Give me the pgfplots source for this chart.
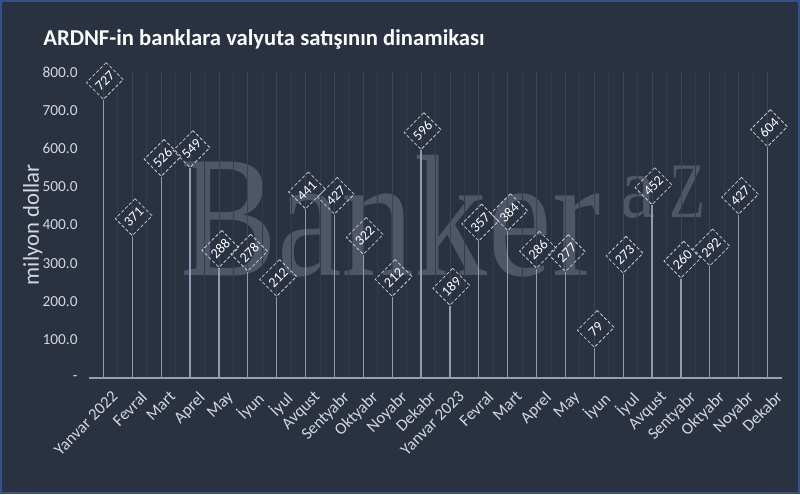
\documentclass[border=0pt]{standalone}
\usepackage{fontspec}
\setmainfont{Carlito}
\newfontfamily\wmfont{Liberation Serif}
\usepackage{pgfplots}
\pgfplotsset{compat=1.18}

\definecolor{bg}{HTML}{2A3242}
\definecolor{frame}{HTML}{34528A}
\definecolor{gridc}{HTML}{3A4457}
\definecolor{gridm}{HTML}{333C4E}
\definecolor{needle}{HTML}{8C9CB4}
\definecolor{axisc}{HTML}{9A9FA8}
\definecolor{ticktext}{HTML}{D3D7DD}
\definecolor{boxc}{HTML}{C3C9D2}
\definecolor{wm}{HTML}{4E5667}

\begin{document}
\begin{tikzpicture}
\fill[bg] (0,0) rectangle (600pt,370.5pt);
\draw[frame, line width=1.2pt] (0.6pt,0.6pt) rectangle (599.4pt,369.9pt);

% watermark
\node[anchor=base west, inner sep=0, text=wm, xscale=0.84,
      font=\wmfont\fontsize{130}{130}\selectfont] at (135pt,164.25pt) {Banker};
\node[anchor=base west, inner sep=0, text=wm, xscale=0.9,
      font=\wmfont\fontsize{66}{66}\selectfont] at (465pt,207.75pt) {a};
\node[anchor=base west, inner sep=0, text=wm, xscale=0.75,
      font=\wmfont\fontsize{59}{59}\selectfont] at (502pt,207.75pt) {Z};

\node[anchor=base west, inner sep=0, text=white,
      font=\bfseries\fontsize{17}{20}\selectfont]
  at (32.25pt,336.75pt) {ARDNF-in banklara valyuta satışının dinamikası};

\begin{axis}[
    at={(66.75pt,87pt)}, anchor=south west,
    scale only axis,
    width=519.75pt, height=229.5pt,
    xmin=-0.5, xmax=23.5,
    ymin=0, ymax=800,
    xtick={0,...,23},
    xticklabels={Yanvar 2022, Fevral, Mart, Aprel, May, İyun, İyul, Avqust, Sentyabr, Oktyabr, Noyabr, Dekabr,
                 Yanvar 2023, Fevral, Mart, Aprel, May, İyun, İyul, Avqust, Sentyabr, Oktyabr, Noyabr, Dekabr},
    minor x tick num=1,
    xmajorgrids, xminorgrids,
    major grid style={gridc, line width=0.6pt},
    minor grid style={gridm, line width=0.6pt},
    ytick={0,100,...,800},
    yticklabels={-,100.0,200.0,300.0,400.0,500.0,600.0,700.0,800.0},
    major tick length=0pt, minor tick length=0pt,
    axis x line*=bottom, axis y line*=left,
    x axis line style={axisc, line width=1.6pt, -},
    y axis line style={draw=none},
    x tick label style={rotate=45, anchor=north east, text=ticktext,
                        font=\fontsize{12.5}{14}\selectfont, yshift=-7pt, xshift=1pt},
    y tick label style={text=ticktext, font=\fontsize{11.5}{13}\selectfont, xshift=-5pt},
    /pgf/number format/assume math mode=true,
    ylabel={milyon dollar},
    ylabel style={at={(axis description cs:-0.081,0.5)}, anchor=center,
                  text=ticktext, font=\fontsize{17}{19}\selectfont},
    clip=false,
]
\addplot[ycomb, draw=needle, line width=0.9pt, mark=none,
    nodes near coords={\pgfmathprintnumber{\pgfplotspointmeta}},
    nodes near coords style={rotate=45, anchor=south west, draw=boxc,
        dash pattern=on 2.5pt off 1.5pt, line width=0.6pt, text=white,
        font=\fontsize{10.5}{11}\selectfont,
        minimum width=21pt, minimum height=18pt, inner sep=1pt},
] coordinates {
(0,727) (1,371) (2,526) (3,549) (4,288) (5,278) (6,212) (7,441)
(8,427) (9,322) (10,212) (11,596) (12,189) (13,357) (14,384) (15,286)
(16,277) (17,79) (18,273) (19,452) (20,260) (21,292) (22,427) (23,604)
};
\end{axis}

\pgfresetboundingbox
\path (0,0) rectangle (600pt,370.5pt);
\end{tikzpicture}
\end{document}
